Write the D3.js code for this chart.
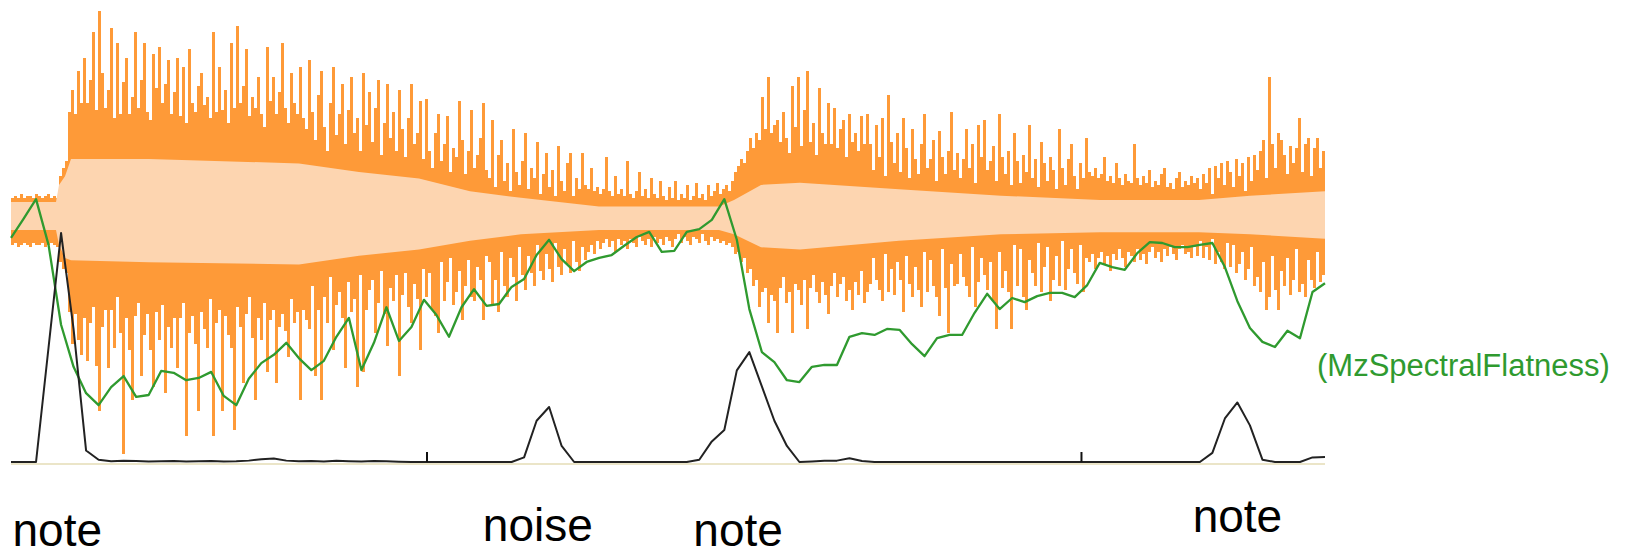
<!DOCTYPE html>
<html>
<head>
<meta charset="utf-8">
<script src="https://cdn.jsdelivr.net/npm/d3@7"></script>
<style>
  body { margin: 0; background: #fff; }
  text { font-family: "Liberation Sans", Arial, sans-serif; }
</style>
</head>
<body>
<div id="chart"></div>
<script>
// waveform peaks per display column (percent of full scale)
const waveHi = [
  8,9,8,10,8,9,9,8,10,9,8,9,10,8,9,8,
  18,22,25,
  48,58,47,67,52,73,52,63,85,49,95,
  66,50,58,87,45,80,47,62,73,47,
  55,85,50,63,80,48,44,75,59,78,
  52,61,72,47,57,73,46,69,43,77,
  52,48,60,66,51,55,45,85,48,69,
  49,58,43,80,50,88,52,60,77,46,
  55,50,64,47,41,78,53,64,47,57,
  80,50,43,66,52,47,69,45,40,72,
  48,35,56,67,41,30,52,69,37,47,
  61,33,49,64,38,45,30,66,42,57,
  34,50,63,28,43,61,36,48,30,58,
  40,27,45,61,33,38,53,26,
  54,30,22,38,47,25,33,46,20,31,27,53,35,19,30,49,22,28,36,52,21,
  17,44,13,28,35,16,24,11,40,20,14,25,38,12,22,17,34,10,19,29,13,21,9,32,16,11,24,29,9,17,12,29,14,
  12,22,11,13,10,12,27,11,9,18,
  10,12,9,25,10,8,11,20,9,12,
  8,17,10,8,16,9,7,13,8,16,
  7,10,8,14,7,9,15,8,10,7,
  14,9,11,15,10,
  12,14,11,16,20,23,26,24,30,36,
  31,38,35,55,40,64,38,42,
  44,34,48,36,29,60,41,64,32,49,67,34,43,28,59,38,33,52,33,50,31,40,44,27,47,34,38,30,46,33,47,
  33,21,42,27,45,18,56,34,24,38,
  20,45,31,17,40,26,19,33,47,22,
  26,35,16,39,27,19,30,48,21,
  29,17,26,40,22,33,15,42,27,44,
  21,25,32,16,47,27,19,30,14,38,
  25,15,28,20,42,17,26,13,34,24,
  16,27,21,12,40,22,14,26,33,18,12,24,17,36,
  20,18,22,17,19,27,16,18,15,24,
  17,14,19,16,15,33,17,14,18,15,
  21,13,16,14,19,22,13,15,12,17,
  20,13,16,14,18,15,17,
  12,19,15,22,10,23,17,24,14,25,
  20,13,26,18,24,11,27,16,28,21,
  30,35,17,64,33,22,38,35,
  28,19,32,24,31,45,20,33,36,18,31,36,22,30
];
const waveLo = [
  -14,-13,-15,-14,-13,-14,-15,-13,-14,-14,-13,-15,-14,-13,-14,-15,
  -22,-25,-27,
  -45,-60,-46,-58,-65,-48,-68,-50,-43,-70,-91,
  -52,-44,-71,-44,-62,-38,-55,-111,-48,-63,
  -86,-47,-41,-75,-56,-46,-63,-80,-45,-58,
  -42,-83,-52,-62,-48,-71,-48,-41,-103,-55,
  -47,-60,-91,-45,-53,-62,-39,-103,-50,-44,
  -91,-47,-56,-62,-100,-43,-52,-78,-46,-38,
  -57,-86,-48,-58,-41,-73,-49,-44,-78,-52,
  -46,-54,-66,-39,-50,-45,-86,-44,-49,-53,
  -33,-75,-44,-86,-38,-50,-29,-63,-42,-36,
  -48,-71,-31,-45,-39,-80,-28,-73,-44,-35,
  -30,-55,-41,-26,-46,-61,-34,-40,-28,-75,
  -37,-27,-43,-50,-32,-39,-63,-25,
  -38,-27,-44,-47,-55,-22,-40,-31,-20,-42,-36,-26,-49,-33,-21,-38,-40,-24,-30,-49,-19,
  -22,-42,-30,-45,-17,-33,-38,-20,-29,-40,-15,-28,-35,-19,-27,-33,-14,-26,-30,-18,-25,-31,-13,-24,-28,-16,-23,-27,-12,-22,-26,-15,-21,
  -17,-14,-18,-12,-16,-13,-11,-15,-12,-17,
  -11,-14,-12,-16,-11,-13,-15,-10,-12,-14,
  -11,-15,-10,-13,-11,-14,-10,-12,-15,-11,
  -9,-13,-10,-12,-14,-10,-11,-13,-9,-12,
  -14,-10,-12,-11,-13,
  -12,-14,-13,-15,-18,-17,-22,-20,-27,-25,
  -33,-30,-43,-36,-34,-50,-37,-40,
  -55,-34,-29,-41,-36,-55,-32,-35,-42,-30,-53,-34,-28,-36,-41,-31,-37,-46,-33,-27,-38,-32,-29,-40,-35,-44,-31,-37,-26,-41,-36,
  -32,-20,-30,-35,-40,-18,-36,-25,-37,-22,
  -30,-45,-19,-32,-38,-24,-35,-43,-17,-36,
  -21,-33,-38,-47,-16,-34,-55,-23,-33,
  -32,-18,-29,-33,-38,-15,-43,-31,-20,-28,
  -35,-22,-40,-53,-17,-34,-26,-36,-53,-14,
  -33,-16,-38,-44,-21,-27,-33,-13,-36,-24,
  -15,-40,-30,-19,-33,-12,-35,-25,-16,-27,-32,-14,-36,-20,
  -22,-18,-25,-20,-17,-23,-19,-26,-18,-21,
  -16,-20,-24,-17,-19,-22,-16,-21,-18,-23,
  -17,-15,-20,-17,-22,-16,-19,-15,-18,-21,
  -16,-14,-18,-17,-20,-15,-19,
  -12,-20,-15,-21,-11,-23,-17,-22,-25,-13,
  -24,-14,-27,-23,-17,-30,-25,-15,-33,-29,
  -36,-22,-44,-38,-19,-35,-44,-26,
  -33,-20,-37,-30,-16,-36,-32,-38,-21,-30,-34,-17,-31,-28
];

// rms envelope, sampled at some display columns
const rmsCols = [0, 15, 16, 18, 20, 46, 96, 116, 136, 153, 170, 196, 236, 241, 250, 263, 296, 330, 363, 396, 413, 438];
const rmsUp   = [6, 6, 14, 18, 26, 26, 24, 20, 17, 11, 8, 4, 4, 7, 14, 15, 12, 9, 7, 7, 9, 11];
const rmsDown = [7, 7, 14, 20, 21, 22, 23, 19, 16, 12, 9, 7, 7, 9, 15, 16, 12, 9, 8, 8, 9, 11];

// features, one value per analysis frame
const flatness = [
  0.485,0.526,0.569,0.470,0.297,0.206,0.149,0.123,0.162,0.186,
  0.141,0.145,0.197,0.193,0.177,0.182,0.195,0.143,0.123,0.180,
  0.214,0.232,0.258,0.225,0.199,0.219,0.271,0.312,0.199,0.258,
  0.335,0.262,0.292,0.351,0.318,0.271,0.335,0.374,0.338,0.342,
  0.379,0.396,0.448,0.481,0.439,0.413,0.433,0.442,0.448,0.468,
  0.487,0.498,0.455,0.457,0.498,0.504,0.524,0.569,0.481,0.331,
  0.238,0.216,0.177,0.173,0.206,0.210,0.210,0.271,0.279,0.275,
  0.288,0.286,0.255,0.229,0.268,0.275,0.275,0.323,0.364,0.331,
  0.355,0.346,0.359,0.366,0.366,0.357,0.383,0.431,0.422,0.416,
  0.452,0.476,0.474,0.465,0.465,0.470,0.474,0.422,0.348,0.290,
  0.260,0.249,0.284,0.268,0.368,0.387
];
const onset = [
  0,0,0,0.50,1.00,0.58,0.05,0.01,0.003,0.005,
  0.004,0.002,0.003,0.004,0.002,0.003,0.004,0.002,0.003,0.006,
  0.012,0.015,0.006,0.003,0.004,0.002,0.005,0.003,0.002,0.004,
  0.003,0.001,0,0,0,0,0,0,0,0,
  0,0.02,0.18,0.24,0.07,0,0,0,0,0,
  0,0,0,0,0,0.01,0.09,0.14,0.40,0.48,
  0.33,0.18,0.07,0,0.002,0.005,0.006,0.016,0.004,0,
  0,0,0,0,0,0,0,0,0,0,
  0,0,0,0,0,0,0,0,0,0,
  0,0,0,0,0,0,0.04,0.19,0.26,0.16,
  0.01,0,0,0,0.02,0.022
];
const markerFrames = [33.2, 85.5];

const labelTexts = ["note", "noise", "note", "note"];
const labelFrames = [3.7, 42.1, 58.1, 98];
const seriesName = "(MzSpectralFlatness)";

// layout
const width = 1629, height = 550;
const plotLeft = 11, plotRight = 1325, baseY = 462;
const labelBaselines = [546, 541, 546, 532];

const svg = d3.select("#chart").append("svg")
    .attr("width", width)
    .attr("height", height);

const col = d3.scaleBand()
    .domain(d3.range(waveHi.length))
    .range([plotLeft, plotRight]);
const colX = d3.scaleLinear()
    .domain([0, waveHi.length])
    .range([plotLeft, plotRight]);
const frame = d3.scaleLinear()
    .domain([0, flatness.length - 1])
    .range([plotLeft, plotRight]);
const amp = d3.scaleLinear().domain([-100, 100]).range([430, 0]);
const flat = d3.scaleLinear().domain([0, 1]).range([baseY, 0]);
const odf = d3.scaleLinear().domain([0, 1]).range([baseY, 233]);

// peak columns
svg.append("g")
    .attr("shape-rendering", "crispEdges")
  .selectAll("rect")
    .data(waveHi)
  .join("rect")
    .attr("x", (d, i) => col(i))
    .attr("width", col.bandwidth())
    .attr("y", d => amp(d))
    .attr("height", (d, i) => amp(waveLo[i]) - amp(d))
    .attr("fill", "#fe9a38");

// rms band
const rmsData = rmsCols.map((c, i) => ({c: c, up: rmsUp[i], down: rmsDown[i]}));
svg.append("path")
    .datum(rmsData)
    .attr("fill", "#fdd5b0")
    .attr("d", d3.area()
        .x(d => colX(d.c))
        .y0(d => amp(-d.down))
        .y1(d => amp(d.up)));

// base strip
svg.append("line")
    .attr("x1", plotLeft).attr("x2", plotRight)
    .attr("y1", baseY + 2).attr("y2", baseY + 2)
    .attr("stroke", "#ebe5c8")
    .attr("stroke-width", 2);

// spectral flatness
svg.append("path")
    .datum(flatness)
    .attr("fill", "none")
    .attr("stroke", "#2f9a2f")
    .attr("stroke-width", 2.3)
    .attr("stroke-linejoin", "round")
    .attr("d", d3.line().x((d, i) => frame(i)).y(d => flat(d)));

// onset detection function
svg.append("path")
    .datum(onset)
    .attr("fill", "none")
    .attr("stroke", "#222")
    .attr("stroke-width", 2)
    .attr("stroke-linejoin", "round")
    .attr("d", d3.line().x((d, i) => frame(i)).y(d => odf(d)));

// markers
const ax = svg.append("g")
    .attr("transform", "translate(0," + baseY + ")")
    .call(d3.axisTop(frame).tickValues(markerFrames).tickSize(10).tickFormat(""));
ax.select(".domain").remove();
ax.selectAll(".tick line").attr("stroke", "#111").attr("stroke-width", 2);

// annotations
svg.append("g").selectAll("text")
    .data(labelTexts)
  .join("text")
    .attr("x", (d, i) => frame(labelFrames[i]))
    .attr("y", (d, i) => labelBaselines[i])
    .attr("text-anchor", "middle")
    .attr("font-size", 46)
    .attr("fill", "#000")
    .text(d => d);

svg.append("text")
    .attr("x", plotRight - 8)
    .attr("y", 376)
    .attr("font-size", 31)
    .attr("fill", "#2f9a2f")
    .text(seriesName);
</script>
</body>
</html>
